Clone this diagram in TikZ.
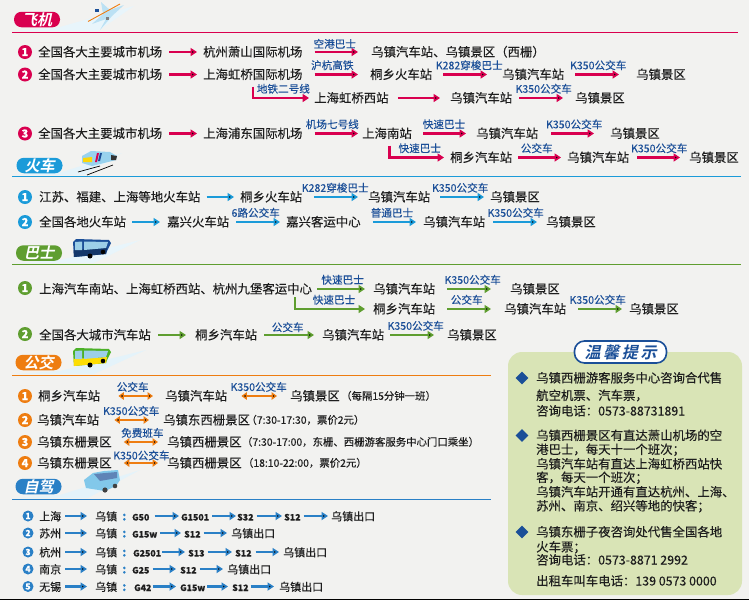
\documentclass[tikz,border=0pt]{standalone}
\usepackage{fontspec}
\setmainfont[FakeBold=0.2]{Noto Sans CJK SC}
\newfontfamily\headfont[FakeSlant=0.22,UprightFont=* Bold]{Noto Sans CJK SC}
\usetikzlibrary{positioning,arrows.meta,shapes.geometric}

\definecolor{planecol}{HTML}{D9004F}
\definecolor{traincol}{HTML}{1B9BD9}
\definecolor{buscol}{HTML}{5F9E30}
\definecolor{localcol}{HTML}{EE7D11}
\definecolor{drivecol}{HTML}{2A80C6}
\definecolor{lblcol}{HTML}{1B4F98}
\definecolor{paper}{HTML}{F2F2F0}
\definecolor{tipcol}{HTML}{D9E4B6}
\definecolor{inkcol}{HTML}{1E1E1E}
\definecolor{glasscol}{HTML}{9CCFE8}

\tikzset{
    stop/.style={anchor=west, inner sep=0pt, text=inkcol, text height=10.5pt, text depth=1.5pt,
        font=\fontsize{12.4}{14}\selectfont},
    note/.style={anchor=west, inner sep=0pt, text=inkcol, text height=8.8pt, text depth=1.2pt,
        font=\fontsize{10.4}{12}\selectfont},
    dstop/.style={stop, font=\fontsize{11}{13}\selectfont},
    road/.style={stop, font=\fontsize{8.8}{12}\selectfont\bfseries},
    colon/.style={road, text=drivecol, font=\fontsize{12}{13}\selectfont\bfseries},
    lbl/.style={above=3.2pt, inner sep=0pt, text=lblcol, font=\fontsize{10.6}{12}\selectfont},
    bullet/.style={circle, inner sep=0pt, minimum size=14pt, text=white, font=\fontsize{11}{12}\selectfont\bfseries},
    dbullet/.style={bullet, minimum size=11pt, font=\fontsize{8.5}{10}\selectfont\bfseries},
    pill/.style={rounded corners=7.5pt, minimum width=46pt, minimum height=15.5pt, inner sep=0pt, text=white,
        font=\fontsize{15}{16}\headfont},
    rail/.style={line width=2.3pt, -{Triangle[length=6.5pt,width=8pt]}},
    both/.style={line width=2pt, {Triangle[length=5.5pt,width=7.5pt]}-{Triangle[length=5.5pt,width=7.5pt]}, draw=localcol},
    gap/.style 2 args={shorten <=#1pt, shorten >=#2pt},
    tip/.style={diamond, fill=lblcol, inner sep=0pt, minimum size=13pt},
    tipline/.style={anchor=west, inner sep=0pt, text=inkcol, text height=10.5pt, text depth=1.5pt,
        font=\fontsize{12.4}{14}\selectfont}
}

% the two buses differ by their colours only
\newcommand{\busicon}[4]{
    \begin{scope}[shift={(#1,#2)}]
        \fill[#3] (0,3) -- (3,0) -- (36,1) -- (38,4) -- (34,12) -- (33,15) -- (1,18) -- cycle;
        \fill[#4] (0.5,11) -- (34,9) -- (33,15) -- (1,18) -- cycle;
        \fill[glasscol] (2,3) -- (9,2.5) -- (9,11) -- (2,11) -- cycle;
        \fill[glasscol] (11,2.5) -- (35,3) -- (33,9) -- (11,11) -- cycle;
        \fill[black] (17,17) circle (2.5);
        \fill[black] (30,13) circle (2.3);
    \end{scope}
}

\begin{document}
\begin{tikzpicture}[x=1pt,y=-1pt]
    \useasboundingbox (0,0) rectangle (749,600);
    \fill[paper] (0,0) rectangle (749,600);
    \fill[black] (0,598.5) rectangle (749,600);

    % section heads
    \fill[traincol!10] (14,31) -- (60,27) -- (134,6) -- (98,31) -- cycle;
    \fill[traincol!12] (14,175) -- (62,172) -- (122,153) -- (84,175) -- cycle;
    \fill[traincol!10] (14,263) -- (60,260) -- (140,240) -- (94,263) -- cycle;
    \fill[traincol!12] (14,374) -- (60,371) -- (146,350) -- (94,374) -- cycle;
    \fill[traincol!12] (14,498) -- (60,495) -- (140,470) -- (88,498) -- cycle;

    \draw[planecol, line width=1pt] (12,32) -- (738,32);
    \draw[traincol, line width=1pt] (12,176.5) -- (741,176.5);
    \draw[buscol, line width=1pt] (12,264.5) -- (741,264.5);
    \draw[localcol, line width=1pt] (12,375.5) -- (491,375.5);
    \draw[drivecol, line width=1pt] (12,499.5) -- (491,499.5);

    \node[pill, fill=planecol] (planehead) at (37,19.5) {飞机};
    \node[pill, fill=traincol] (trainhead) at (39.5,165.5) {火车};
    \node[pill, fill=buscol] (bushead) at (39,253) {巴士};
    \node[pill, fill=localcol] (localhead) at (38.5,362.5) {公交};
    \node[pill, fill=drivecol] (drivehead) at (38.5,486.5) {自驾};

    % plane
    \fill[white!70!traincol] (101,2) -- (110,10) -- (124,5) -- (112,16) -- (100,30) -- (106,19) -- (92,24) -- (103,14) -- cycle;
    \draw[localcol, line width=.9pt] (88,21.5) -- (120,4);
    \fill[lblcol] (95,9) rectangle (99,12);
    \fill[gray] (106,17) rectangle (109,20);

    % train
    \fill[traincol!45] (82,156) -- (91,151) -- (110,152) -- (117,156) -- (116,160) -- (92,166) -- (82,163) -- cycle;
    \fill[yellow!75!orange] (83,158) -- (92,157) -- (92,162) -- (83,162) -- cycle;
    \fill[planecol] (97,153) -- (99,153) -- (97,162) -- (95,162) -- cycle;
    \fill[lblcol] (100,153) -- (102,153) -- (100,161) -- (98,161) -- cycle;
    \fill[black!80] (111,155) -- (117,156) -- (116,160) -- (111,160) -- cycle;
    \draw[black, line width=.7pt] (78,172) -- (100,166);
    \draw[black, line width=.7pt] (87,175) -- (113,165);

    % buses
    \busicon{73}{239}{lblcol}{lblcol!70!black}
    \busicon{73}{348}{buscol!80!green}{yellow!80!orange}

    % car
    \fill[traincol!55] (84,480) -- (93,473) -- (104,471) -- (118,470) -- (120,480) -- (116,486) -- (105,491) -- (86,488) -- cycle;
    \fill[lblcol!70] (94,474) -- (117,472) -- (117,478) -- (100,481) -- cycle;
    \fill[black!75] (105,490) circle (2.6);
    \fill[black!75] (115,486) circle (2.3);

    % by air
    \node[bullet, fill=planecol] (pb1) at (25,52) {1};
    \node[stop] (p11) at (38,52) {全国各大主要城市机场};
    \node[stop] (p12) at (203,52) {杭州萧山国际机场};
    \node[stop] (p13) at (371,52) {乌镇汽车站、乌镇景区（西栅）};

    \node[bullet, fill=planecol] (pb2) at (25,74.5) {2};
    \node[stop] (p21) at (38,74.5) {全国各大主要城市机场};
    \node[stop] (p22) at (203,74.5) {上海虹桥国际机场};
    \node[stop] (p23) at (370,74.5) {桐乡火车站};
    \node[stop] (p24) at (502,74.5) {乌镇汽车站};
    \node[stop] (p25) at (636,74.5) {乌镇景区};

    \node[stop] (p26) at (314,98) {上海虹桥西站};
    \node[stop] (p27) at (450,98) {乌镇汽车站};
    \node[stop] (p28) at (575,98) {乌镇景区};

    \node[bullet, fill=planecol] (pb3) at (25,133.5) {3};
    \node[stop] (p31) at (38,133.5) {全国各大主要城市机场};
    \node[stop] (p32) at (203,133.5) {上海浦东国际机场};
    \node[stop] (p33) at (362,133.5) {上海南站};
    \node[stop] (p34) at (476,133.5) {乌镇汽车站};
    \node[stop] (p35) at (610,133.5) {乌镇景区};

    \node[stop] (p36) at (450,157.5) {桐乡汽车站};
    \node[stop] (p37) at (567,157.5) {乌镇汽车站};
    \node[stop] (p38) at (689,157.5) {乌镇景区};

    \path[rail, draw=planecol]
    (p11) edge[gap={7}{6}] (p12)
    (p12) edge[gap={12}{13}] node[lbl, xshift=-2pt, yshift=-1pt] (pl1) {空港巴士} (p13)
    (p21) edge[gap={7}{6}] (p22)
    (p22) edge[gap={12}{12}] node[lbl, xshift=-4pt] (pl2) {沪杭高铁} (p23)
    (p23) edge[gap={11}{15}] node[lbl, xshift=2pt] (pl3) {K282穿梭巴士} (p24)
    (p24) edge[gap={11}{17}] node[lbl, xshift=-2pt] (pl4) {K350公交车} (p25)
    (p26) edge[gap={9}{10}] (p27)
    (p27) edge[gap={7}{12}] node[lbl] (pl5) {K350公交车} (p28)
    (p31) edge[gap={7}{6}] (p32)
    (p32) edge[gap={12}{4}] node[lbl] (pl6) {机场七号线} (p33)
    (p33) edge[gap={11}{10}] node[lbl] (pl7) {快速巴士} (p34)
    (p34) edge[gap={13}{16}] node[lbl] (pl8) {K350公交车} (p35)
    (p36) edge[gap={6}{6}] node[lbl, xshift=-3pt] (pl9) {公交车} (p37)
    (p37) edge[gap={8}{9}] node[lbl] (pl10) {K350公交车} (p38);

    \draw[rail, draw=planecol, gap={6}{5}] (p22.south) |- node[lbl, pos=.75] (pl11) {地铁二号线} (p26);
    \draw[rail, draw=planecol, gap={6}{6}] ([xshift=2.5pt]p33.south) |- node[lbl, pos=.75] (pl12) {快速巴士} (p36);

    % by train
    \node[bullet, fill=traincol] (tb1) at (25,197) {1};
    \node[stop] (t11) at (39,197) {江苏、福建、上海等地火车站};
    \node[stop] (t12) at (240,197) {桐乡火车站};
    \node[stop] (t13) at (368,197) {乌镇汽车站};
    \node[stop] (t14) at (490,197) {乌镇景区};

    \node[bullet, fill=traincol] (tb2) at (25,222) {2};
    \node[stop] (t21) at (39,222) {全国各地火车站};
    \node[stop] (t22) at (167,222) {嘉兴火车站};
    \node[stop] (t23) at (286,222) {嘉兴客运中心};
    \node[stop] (t24) at (423,222) {乌镇汽车站};
    \node[stop] (t25) at (546,222) {乌镇景区};

    \path[rail, draw=traincol]
    (t11) edge[gap={6}{6}] (t12)
    (t12) edge[gap={12}{10}] node[lbl] (tl1) {K282穿梭巴士} (t13)
    (t13) edge[gap={10}{6}] node[lbl] (tl2) {K350公交车} (t14)
    (t21) edge[gap={6}{7}] (t22)
    (t22) edge[gap={7}{6}] node[lbl, xshift=-2pt] (tl3) {6路公交车} (t23)
    (t23) edge[gap={12}{7}] node[lbl] (tl4) {普通巴士} (t24)
    (t24) edge[gap={8}{9}] node[lbl] (tl5) {K350公交车} (t25);

    % by coach
    \node[bullet, fill=buscol] (bb1) at (25,288) {1};
    \node[stop] (b11) at (39,289) {上海汽车南站、上海虹桥西站、杭州九堡客运中心};
    \node[stop] (b12) at (373,289) {乌镇汽车站};
    \node[stop] (b13) at (510,289) {乌镇景区};

    \node[stop] (b14) at (373,309) {桐乡汽车站};
    \node[stop] (b15) at (504,309) {乌镇汽车站};
    \node[stop] (b16) at (629,309) {乌镇景区};

    \node[bullet, fill=buscol] (bb2) at (25,334) {2};
    \node[stop] (b21) at (39,335) {全国各大城市汽车站};
    \node[stop] (b22) at (195,335) {桐乡汽车站};
    \node[stop] (b23) at (322,335) {乌镇汽车站};
    \node[stop] (b24) at (447,335) {乌镇景区};

    \coordinate (bturn) at (295,297);

    \path[rail, draw=buscol]
    (b11) edge[gap={5}{8}] node[lbl] (bl1) {快速巴士} (b12)
    (b12) edge[gap={12}{19}] node[lbl] (bl2) {K350公交车} (b13)
    (b14) edge[gap={12}{13}] node[lbl, xshift=-3pt] (bl3) {公交车} (b15)
    (b15) edge[gap={12}{7}] node[lbl] (bl4) {K350公交车} (b16)
    (b21) edge[gap={7}{9}] (b22)
    (b22) edge[gap={7}{8}] node[lbl, xshift=-2pt, yshift=-1.5pt] (bl5) {公交车} (b23)
    (b23) edge[gap={6}{13}] node[lbl] (bl6) {K350公交车} (b24);

    \draw[rail, draw=buscol, gap={0}{8}] (bturn) |- node[lbl, pos=.75] (bl7) {快速巴士} (b14);

    % local bus
    \node[bullet, fill=localcol] (cb1) at (25,396) {1};
    \node[stop] (c11) at (38,396) {桐乡汽车站};
    \node[stop] (c12) at (165,396) {乌镇汽车站};
    \node[stop] (c13) at (290,396) {乌镇景区};
    \node[note, right=1pt of c13] (cn1) {（每隔15分钟一班）};

    \node[bullet, fill=localcol] (cb2) at (25,420) {2};
    \node[stop] (c21) at (37,420) {乌镇汽车站};
    \node[stop] (c22) at (163,420) {乌镇东西栅景区};
    \node[note, right=-4pt of c22] (cn2) {（7:30-17:30，票价2元）};

    \node[bullet, fill=localcol] (cb3) at (25,442) {3};
    \node[stop] (c31) at (37,442) {乌镇东栅景区};
    \node[stop] (c32) at (167,442) {乌镇西栅景区};
    \node[note, right=0pt of c32] (cn3) {（7:30-17:00，东栅、西栅游客服务中心门口乘坐）};

    \node[bullet, fill=localcol] (cb4) at (25,463) {4};
    \node[stop] (c41) at (37,463) {乌镇东栅景区};
    \node[stop] (c42) at (167,463) {乌镇西栅景区};
    \node[note, right=1pt of c42] (cn4) {（18:10-22:00，票价2元）};

    \path[both]
    (c11) edge[gap={18}{12}] node[lbl] (cl1) {公交车} (c12)
    (c12) edge[gap={14}{13}] node[lbl] (cl2) {K350公交车} (c13)
    (c21) edge[gap={15}{14}] node[lbl] (cl3) {K350公交车} (c22)
    (c31) edge[gap={12}{9}] node[lbl, xshift=3pt] (cl4) {免费班车} (c32)
    (c41) edge[gap={12}{9}] node[lbl, xshift=2pt, yshift=-1.5pt] (cl5) {K350公交车} (c42);

    % self drive
    \node[dbullet, fill=drivecol] (db1) at (28,516) {1};
    \node[dstop] (d11) at (39,516) {上海};
    \node[dstop] (d12) at (95,516) {乌镇};
    \node[colon] (dc1) at (122,516) {:};
    \node[road] (d13) at (132,516) {G50};
    \node[road] (d14) at (181,516) {G1501};
    \node[road] (d15) at (237,516) {S32};
    \node[road] (d16) at (284,516) {S12};
    \node[dstop] (d17) at (331,516) {乌镇出口};

    \node[dbullet, fill=drivecol] (db2) at (28,533) {2};
    \node[dstop] (d21) at (39,533) {苏州};
    \node[dstop] (d22) at (95,533) {乌镇};
    \node[colon] (dc2) at (122,533) {:};
    \node[road] (d23) at (132,533) {G15w};
    \node[road] (d24) at (184,533) {S12};
    \node[dstop] (d25) at (231,533) {乌镇出口};

    \node[dbullet, fill=drivecol] (db3) at (28,552) {3};
    \node[dstop] (d31) at (39,552) {杭州};
    \node[dstop] (d32) at (95,552) {乌镇};
    \node[colon] (dc3) at (122,552) {:};
    \node[road] (d33) at (133,552) {G2501};
    \node[road] (d34) at (188,552) {S13};
    \node[road] (d35) at (235,552) {S12};
    \node[dstop] (d36) at (283,552) {乌镇出口};

    \node[dbullet, fill=drivecol] (db4) at (28,569) {4};
    \node[dstop] (d41) at (39,569) {南京};
    \node[dstop] (d42) at (95,569) {乌镇};
    \node[colon] (dc4) at (122,569) {:};
    \node[road] (d43) at (132,569) {G25};
    \node[road] (d44) at (180,569) {S12};
    \node[dstop] (d45) at (227,569) {乌镇出口};

    \node[dbullet, fill=drivecol] (db5) at (28,586.5) {5};
    \node[dstop] (d51) at (39,586.5) {无锡};
    \node[dstop] (d52) at (95,586.5) {乌镇};
    \node[colon] (dc5) at (122,586.5) {:};
    \node[road] (d53) at (134,586.5) {G42};
    \node[road] (d54) at (180,586.5) {G15w};
    \node[road] (d55) at (232,586.5) {S12};
    \node[dstop] (d56) at (279,586.5) {乌镇出口};

    \path[rail, draw=drivecol]
    (d11) edge[gap={4}{8}] (d12)
    (d13) edge[gap={5}{2}] (d14)
    (d14) edge[gap={3}{1}] (d15)
    (d15) edge[gap={3}{2}] (d16)
    (d16) edge[gap={3}{3}] (d17)
    (d21) edge[gap={4}{8}] (d22)
    (d23) edge[gap={3}{3}] (d24)
    (d24) edge[gap={3}{4}] (d25)
    (d31) edge[gap={4}{8}] (d32)
    (d33) edge[gap={1}{3}] (d34)
    (d34) edge[gap={3}{3}] (d35)
    (d35) edge[gap={4}{4}] (d36)
    (d41) edge[gap={4}{8}] (d42)
    (d43) edge[gap={3}{4}] (d44)
    (d44) edge[gap={3}{4}] (d45)
    (d51) edge[gap={4}{8}] (d52)
    (d53) edge[gap={1}{4}] (d54)
    (d54) edge[gap={2}{4}] (d55)
    (d55) edge[gap={2}{5}] (d56);

    % tips
    \fill[tipcol, rounded corners=14pt] (508,352) rectangle (742,595);
    \node[draw=lblcol, fill=white, line width=1.6pt, rounded corners=10pt, minimum width=92pt, minimum height=22pt,
        inner sep=0pt, text=lblcol, font=\fontsize{16}{18}\headfont] (tiptitle) at (620.5,352) {温\,馨\,提\,示};

    \node[tip] (tip1) at (522,378) {};
    \node[tip] (tip2) at (522,435.5) {};
    \node[tip] (tip3) at (522,532) {};

    \foreach \ypos/\txt in {
        378/乌镇西栅游客服务中心咨询合代售,
        395.5/航空机票、汽车票，,
        411/咨询电话：0573-88731891,
        435.5/乌镇西栅景区有直达萧山机场的空,
        449.5/港巴士，每天十一个班次；,
        464/乌镇汽车站有直达上海虹桥西站快,
        477.5/客，每天一个班次；,
        492/乌镇汽车站开通有直达杭州、上海、,
        506/苏州、南京、绍兴等地的快客；,
        532/乌镇东栅子夜咨询处代售全国各地,
        547/火车票；,
        560/咨询电话：0573-8871 2992,
        581/出租车叫车电话：139 0573 0000}
    \node[tipline] (tipline\ypos) at (536,\ypos) {\txt};
\end{tikzpicture}
\end{document}
